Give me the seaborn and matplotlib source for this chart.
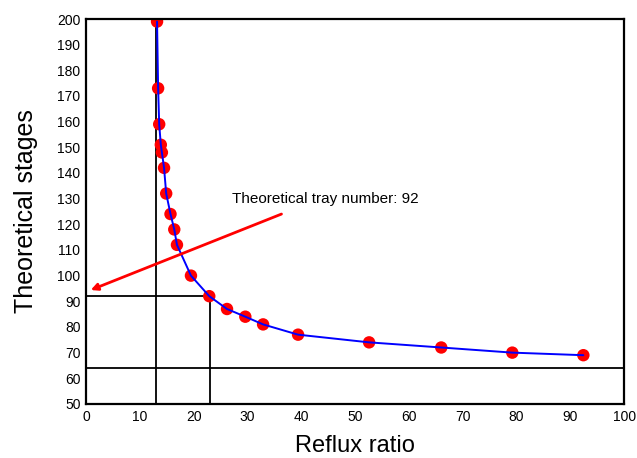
import matplotlib
matplotlib.use("Agg")
import matplotlib.pyplot as plt
import seaborn as sns
import pandas as pd
from matplotlib.ticker import MultipleLocator

# data
reflux_ratio = [13.2, 13.4, 13.6, 13.9, 14.1, 14.5, 14.9, 15.7, 16.4, 16.9,
                19.5, 22.9, 26.2, 29.6, 32.9, 39.4, 52.6, 66.0, 79.2, 92.4]
stages = [199, 173, 159, 151, 148, 142, 132, 124, 118, 112,
          100, 92, 87, 84, 81, 77, 74, 72, 70, 69]

min_reflux = 13
chosen_reflux = 23
tray_number = 92
min_stages = 64

df = pd.DataFrame({"Reflux ratio": reflux_ratio, "Theoretical stages": stages})

sns.set_style("white", {"text.color": "black", "axes.labelcolor": "black",
                        "xtick.color": "black", "ytick.color": "black"})
plt.rcParams["font.family"] = ["Liberation Sans", "DejaVu Sans"]

fig = plt.figure(figsize=(6.37, 4.58), dpi=100)
ax = fig.add_axes([0.135, 0.118, 0.845, 0.8405])

# reference lines
ax.axvline(min_reflux, color="black", lw=1.3, zorder=1)
ax.axhline(min_stages, color="black", lw=1.3, zorder=1)
ax.plot([0, chosen_reflux], [tray_number, tray_number], color="black", lw=1.3, zorder=1)
ax.plot([chosen_reflux, chosen_reflux], [50, tray_number], color="black", lw=1.3, zorder=1)

sns.scatterplot(data=df, x="Reflux ratio", y="Theoretical stages", color="red",
                s=80, edgecolor="none", ax=ax, zorder=2)
sns.lineplot(data=df, x="Reflux ratio", y="Theoretical stages", color="blue",
             lw=1.4, sort=False, ax=ax, zorder=3)

ax.annotate("", xy=(0.4, 94), xytext=(36.8, 124.4),
            arrowprops=dict(arrowstyle="-|>", color="red", lw=2,
                            mutation_scale=10))
ax.text(27.1, 130, "Theoretical tray number: 92", fontsize=11,
        va="center", ha="left", color="black")

ax.set_xlim(0, 100)
ax.set_ylim(50, 200)
ax.xaxis.set_major_locator(MultipleLocator(10))
ax.xaxis.set_minor_locator(MultipleLocator(2))
ax.yaxis.set_major_locator(MultipleLocator(10))
ax.yaxis.set_minor_locator(MultipleLocator(2))
ax.tick_params(which="both", direction="in", labelsize=10, pad=4,
               colors="black")
ax.tick_params(which="major", length=4)
ax.tick_params(which="minor", length=2)
ax.set_xlabel("Reflux ratio", fontsize=17, labelpad=8, color="black")
ax.set_ylabel("Theoretical stages", fontsize=18, labelpad=14, color="black")
for s in ax.spines.values():
    s.set_color("black")
    s.set_linewidth(1.6)

fig.savefig("out.png", dpi=100)
